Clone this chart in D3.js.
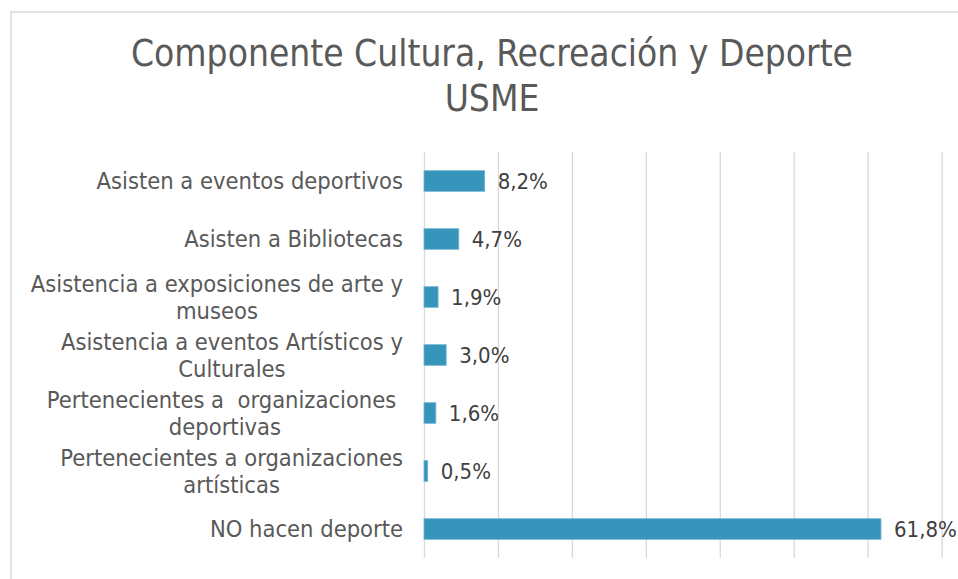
<!DOCTYPE html>
<html>
<head>
<meta charset="utf-8">
<script src="https://cdn.jsdelivr.net/npm/d3@7"></script>
<style>
  html, body { margin: 0; padding: 0; background: #fff; }
  svg { display: block; }
</style>
</head>
<body>
<svg id="chart" width="958" height="579"></svg>
<script>
// ---- Data ----
const titleLines = ["Componente Cultura, Recreación y Deporte", "USME"];
const categories = [
  ["Asisten a eventos deportivos"],
  ["Asisten a Bibliotecas"],
  ["Asistencia a exposiciones de arte y", "museos"],
  ["Asistencia a eventos Artísticos y", "Culturales"],
  ["Pertenecientes a  organizaciones ", "deportivas"],
  ["Pertenecientes a organizaciones", "artísticas"],
  ["NO hacen deporte"]
];
const values = [8.2, 4.7, 1.9, 3.0, 1.6, 0.5, 61.8];
const valueLabels = ["8,2%", "4,7%", "1,9%", "3,0%", "1,6%", "0,5%", "61,8%"];
const xTicks = [0, 10, 20, 30, 40, 50, 60, 70];

// ---- Layout ----
const W = 958, H = 579;
const plot = { left: 424, right: 941.6, top: 152, bottom: 558 };
const svg = d3.select("#chart");

// outer chart border
svg.append("rect")
  .attr("x", 11).attr("y", 12)
  .attr("width", W + 20).attr("height", H + 20)
  .attr("fill", "#fff").attr("stroke", "#d9d9d9").attr("stroke-width", 1.5);

const x = d3.scaleLinear().domain([0, 70]).range([plot.left, plot.right]);
const y = d3.scaleBand()
  .domain(d3.range(categories.length))
  .range([plot.top, plot.bottom])
  .paddingInner(0.645).paddingOuter(0.3225);

// gridlines via axis
const gridAxis = d3.axisBottom(x).tickValues(xTicks).tickSize(-(plot.bottom - plot.top)).tickFormat("");
const g = svg.append("g").attr("transform", `translate(0,${plot.bottom})`).call(gridAxis);
g.select(".domain").remove();
g.selectAll(".tick line").attr("stroke", "#d9d9d9").attr("stroke-width", 1.3);

// title
const title = svg.append("text")
  .attr("text-anchor", "middle")
  .attr("font-family", "'DejaVu Sans Condensed', 'DejaVu Sans', sans-serif")
  .attr("font-size", 36.8)
  .attr("fill", "#595959");
titleLines.forEach((t, i) => {
  title.append("tspan").attr("x", 492).attr("y", 66 + i * 44.5).text(t);
});

// bars
svg.append("g").selectAll("rect")
  .data(values)
  .join("rect")
  .attr("x", x(0))
  .attr("y", (d, i) => y(i))
  .attr("width", d => x(d) - x(0))
  .attr("height", y.bandwidth())
  .attr("fill", "#3795bc")
  .attr("stroke", "#6ab3d3")
  .attr("stroke-width", 0.8);

// data labels
svg.append("g").selectAll("text")
  .data(values)
  .join("text")
  .attr("x", d => x(d) + 13)
  .attr("y", (d, i) => y(i) + y.bandwidth() / 2)
  .attr("dy", "0.36em")
  .attr("font-family", "'DejaVu Sans Condensed', sans-serif")
  .attr("font-size", 22)
  .attr("fill", "#404040")
  .text((d, i) => valueLabels[i]);

// category labels (block right-aligned, lines centred within block)
const labelRight = 403;
const lineH = 26.6;
const lg = svg.append("g")
  .attr("font-family", "'DejaVu Sans Condensed', 'DejaVu Sans', sans-serif")
  .attr("font-size", 23.5)
  .attr("fill", "#595959");
categories.forEach((lines, i) => {
  const cy = y(i) + y.bandwidth() / 2;
  const t = lg.append("text").attr("text-anchor", "middle").style("white-space", "pre");
  const spans = lines.map((ln, j) =>
    t.append("tspan")
      .attr("y", cy + (j - (lines.length - 1) / 2) * lineH)
      .attr("dy", "0.36em")
      .text(ln));
  const maxW = d3.max(spans, s => s.node().getComputedTextLength());
  spans.forEach(s => s.attr("x", labelRight - maxW / 2));
});
</script>
</body>
</html>
